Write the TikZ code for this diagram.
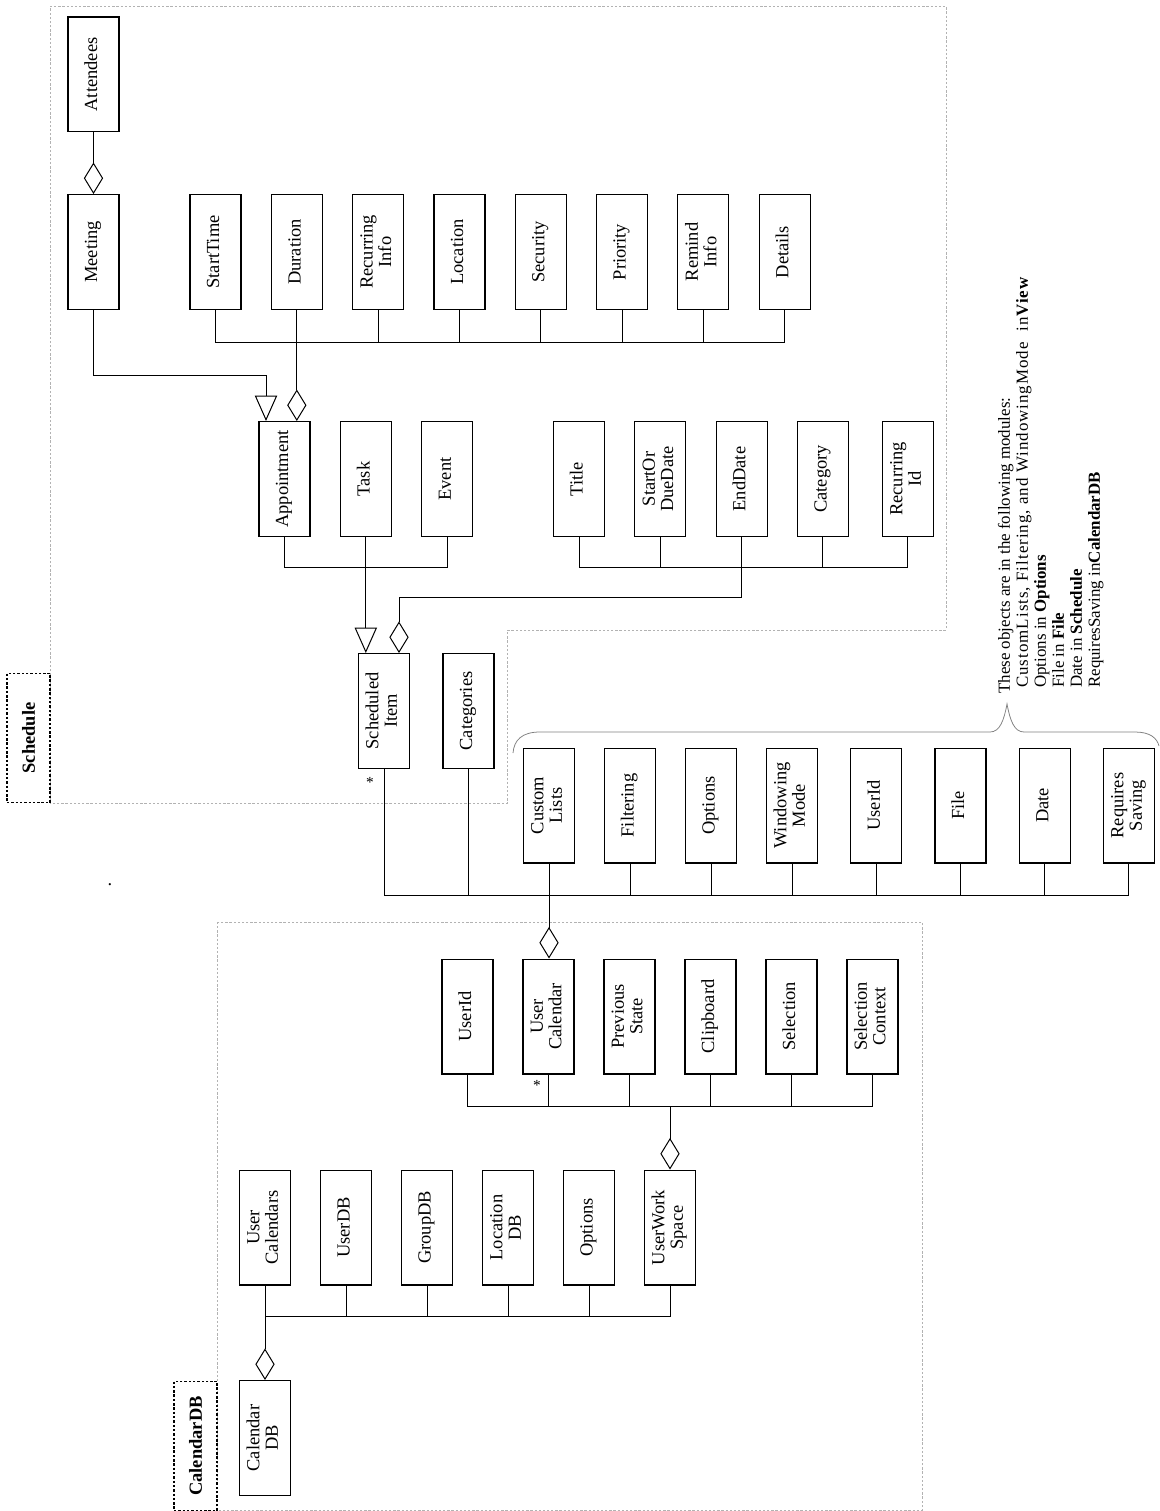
\documentclass[tikz,border=0pt]{standalone}
\usepackage{fontspec}
\setmainfont{Liberation Serif}
\newfontfamily\spacedfont[LetterSpace=6]{Liberation Serif}
\usepackage{graphicx}
\usetikzlibrary{arrows.meta, positioning}

\newcommand{\vlabel}[1]{\rotatebox{90}{\begin{tabular}{@{}c@{}}#1\end{tabular}}}

\begin{document}
\begin{tikzpicture}[
  x=0.65pt, y=-0.65pt,
  cls/.style={rectangle, draw, line width=0.8pt, minimum width=33.15pt,
    minimum height=74.6pt, inner sep=0pt, font=\fontsize{12}{12}\selectfont},
  modlab/.style={rectangle, draw, line width=0.8pt, dash pattern=on 1.6pt off 1.2pt,
    minimum width=27.95pt, minimum height=84pt, inner sep=0pt,
    font=\fontsize{12}{12}\selectfont\bfseries},
  module/.style={draw=gray!60, line width=0.5pt, dash pattern=on 1.5pt off 1.2pt},
  link/.style={draw, line width=0.65pt},
  agg/.style={link, -{Diamond[open, length=20.5pt, width=12.5pt]}},
  inh/.style={link, -{Triangle[open, length=16.5pt, width=14.5pt]}},
  mult/.style={font=\fontsize{10}{10}\selectfont, inner sep=0pt},
  note/.style={font=\fontsize{11}{11.7}\selectfont, inner sep=0pt, anchor=south west},
]
\useasboundingbox (0,0) rectangle (1159,1511);

% Modules
\draw[module] (50,6) -- (946,6) -- (946,630) -- (507.5,630) -- (507.5,803) -- (50,803) -- cycle;
\draw[module] (217,922) rectangle (922,1510);
\node[modlab] (schedlabel) at (28.5,738) {\rotatebox{90}{Schedule}};
\node[modlab] (caldblabel) at (195.5,1446) {\rotatebox{90}{CalendarDB}};

% Schedule
\node[cls] (attendees) at (93.5,74.5) {\vlabel{Attendees}};
\node[cls] (meeting) at (93.5,252) {\vlabel{Meeting}};
\node[cls] (starttime) at (215.5,252) {\vlabel{StartTime}};
\node[cls, right=18.9pt of starttime] (duration) {\vlabel{Duration}};
\node[cls, right=18.9pt of duration] (recurinfo) {\vlabel{Recurring\\Info}};
\node[cls, right=18.9pt of recurinfo] (location) {\vlabel{Location}};
\node[cls, right=18.9pt of location] (security) {\vlabel{Security}};
\node[cls, right=18.9pt of security] (priority) {\vlabel{Priority}};
\node[cls, right=18.9pt of priority] (remindinfo) {\vlabel{Remind\\Info}};
\node[cls, right=18.9pt of remindinfo] (details) {\vlabel{Details}};

\node[cls] (appointment) at (284.5,479) {\vlabel{Appointment}};
\node[cls, right=18.9pt of appointment] (task) {\vlabel{Task}};
\node[cls, right=18.9pt of task] (event) {\vlabel{Event}};
\node[cls] (title) at (579,479) {\vlabel{Title}};
\node[cls, right=18.9pt of title] (startdue) {\vlabel{StartOr\\DueDate}};
\node[cls, right=18.9pt of startdue] (enddate) {\vlabel{EndDate}};
\node[cls, right=18.9pt of enddate] (category) {\vlabel{Category}};
\node[cls, right=21.3pt of category] (recurid) {\vlabel{Recurring\\Id}};

\node[cls] (scheditem) at (384,711) {\vlabel{Scheduled\\Item}};
\node[cls] (categories) at (468.5,711) {\vlabel{Categories}};

\node[cls] (customlists) at (549,805.5) {\vlabel{Custom\\Lists}};
\node[cls, right=18.7pt of customlists] (filtering) {\vlabel{Filtering}};
\node[cls, right=18.7pt of filtering] (options) {\vlabel{Options}};
\node[cls, right=18.7pt of options] (winmode) {\vlabel{Windowing\\Mode}};
\node[cls, right=20.8pt of winmode] (userid) {\vlabel{UserId}};
\node[cls, right=20.8pt of userid] (file) {\vlabel{File}};
\node[cls, right=20.8pt of file] (date) {\vlabel{Date}};
\node[cls, right=20.8pt of date] (reqsaving) {\vlabel{Requires\\Saving}};

% CalendarDB
\node[cls] (wsuserid) at (467.5,1016.5) {\vlabel{UserId}};
\node[cls, right=18.7pt of wsuserid] (usercal) {\vlabel{User\\Calendar}};
\node[cls, right=18.7pt of usercal] (prevstate) {\vlabel{Previous\\State}};
\node[cls, right=18.7pt of prevstate] (clipboard) {\vlabel{Clipboard}};
\node[cls, right=18.7pt of clipboard] (selection) {\vlabel{Selection}};
\node[cls, right=18.7pt of selection] (selcontext) {\vlabel{Selection\\Context}};

\node[cls] (usercals) at (265,1227.5) {\vlabel{User\\Calendars}};
\node[cls, right=18.7pt of usercals] (userdb) {\vlabel{UserDB}};
\node[cls, right=18.7pt of userdb] (groupdb) {\vlabel{GroupDB}};
\node[cls, right=18.7pt of groupdb] (locationdb) {\vlabel{Location\\DB}};
\node[cls, right=18.7pt of locationdb] (caloptions) {\vlabel{Options}};
\node[cls, right=18.7pt of caloptions] (workspace) {\vlabel{UserWork\\Space}};
\node[cls] (calendardb) at (265,1438) {\vlabel{Calendar\\DB}};

% Bus lines
\coordinate (abus) at (0,342);
\coordinate (mbend) at (266,375);
\coordinate (kbus) at (0,567);
\coordinate (ibend) at (399,597);
\coordinate (wbus) at (0,895);
\coordinate (cbus) at (0,1106);
\coordinate (dbus) at (0,1316);

\draw[agg] (attendees) -- (meeting);

\draw[link] (starttime.south) |- (details.south |- abus) -- (details.south);
\draw[link] (recurinfo.south) -- (recurinfo.south |- abus);
\draw[link] (location.south) -- (location.south |- abus);
\draw[link] (security.south) -- (security.south |- abus);
\draw[link] (priority.south) -- (priority.south |- abus);
\draw[link] (remindinfo.south) -- (remindinfo.south |- abus);
\draw[agg] (duration.south) -- (duration.south |- appointment.north);
\draw[inh] (meeting.south) |- (mbend) -- (mbend |- appointment.north);

\draw[link] (appointment.south) |- (event.south |- kbus) -- (event.south);
\draw[inh] (task.south) -- (task.south |- scheditem.north);
\draw[link] (title.south) |- (recurid.south |- kbus) -- (recurid.south);
\draw[link] (startdue.south) -- (startdue.south |- kbus);
\draw[link] (category.south) -- (category.south |- kbus);
\draw[agg] (enddate.south) |- (ibend) -- (ibend |- scheditem.north);

\draw[link] (scheditem.south) |- (reqsaving.south |- wbus) -- (reqsaving.south);
\draw[link] (categories.south) -- (categories.south |- wbus);
\draw[link] (filtering.south) -- (filtering.south |- wbus);
\draw[link] (options.south) -- (options.south |- wbus);
\draw[link] (winmode.south) -- (winmode.south |- wbus);
\draw[link] (userid.south) -- (userid.south |- wbus);
\draw[link] (file.south) -- (file.south |- wbus);
\draw[link] (date.south) -- (date.south |- wbus);
\draw[agg] (customlists.south) -- (customlists.south |- usercal.north);

\draw[link] (wsuserid.south) |- (selcontext.south |- cbus) -- (selcontext.south);
\draw[link] (usercal.south) -- (usercal.south |- cbus);
\draw[link] (prevstate.south) -- (prevstate.south |- cbus);
\draw[link] (clipboard.south) -- (clipboard.south |- cbus);
\draw[link] (selection.south) -- (selection.south |- cbus);
\draw[agg] (workspace.north |- cbus) -- (workspace.north);

\draw[link] (usercals.south) |- (workspace.south |- dbus) -- (workspace.south);
\draw[link] (userdb.south) -- (userdb.south |- dbus);
\draw[link] (groupdb.south) -- (groupdb.south |- dbus);
\draw[link] (locationdb.south) -- (locationdb.south |- dbus);
\draw[link] (caloptions.south) -- (caloptions.south |- dbus);
\draw[agg] (usercals.south) -- (usercals.south |- calendardb.north);

% Multiplicities
\node[mult] (schedmult) at (370,782) {*};
\node[mult] (calmult) at (537,1085) {*};
\node[inner sep=0pt, font=\fontsize{12}{12}\selectfont] (stray) at (110,885) {.};

% Note with brace
\draw[gray, line width=0.5pt] (513,753) .. controls (514,740) and (522,732) .. (540,732)
  -- (990,732) .. controls (1000,732) and (1004,720) .. (1007,704)
  .. controls (1010,720) and (1014,732) .. (1024,732)
  -- (1135,732) .. controls (1150,732) and (1157,738) .. (1159,746);
\node[note] (modnote) at (997,694) {\rotatebox{90}{\begin{tabular}{@{}l@{}}
  These objects are in the following modules:\\
  \hspace{0.35em}{\spacedfont CustomLists, Filtering, and WindowingMode\ \ in\textbf{View}}\\
  \hspace{0.35em}Options in \textbf{Options}\\
  \hspace{0.35em}File in \textbf{File}\\
  \hspace{0.35em}Date in \textbf{Schedule}\\
  \hspace{0.35em}RequiresSaving in\textbf{CalendarDB}
\end{tabular}}};
\end{tikzpicture}
\end{document}
